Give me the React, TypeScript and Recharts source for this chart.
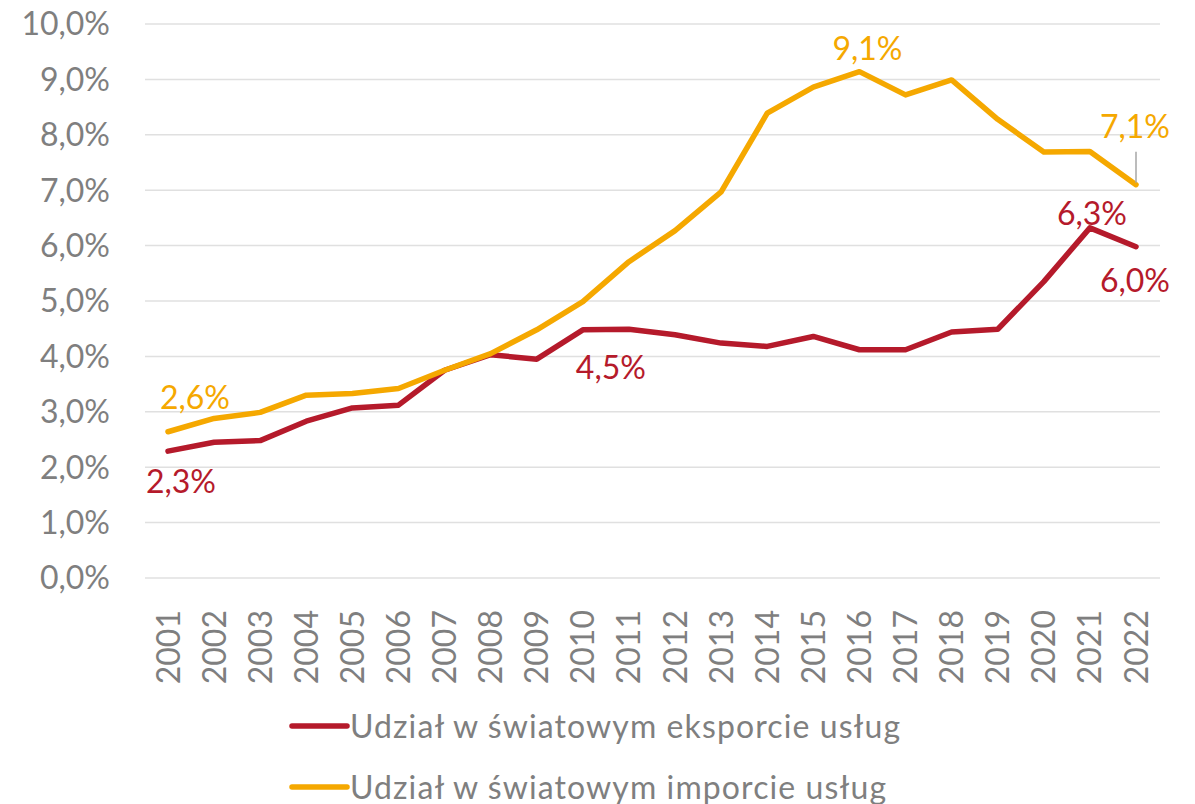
import { LineChart, Line, XAxis, YAxis, CartesianGrid, Legend } from 'recharts';

const years = [
  '2001', '2002', '2003', '2004', '2005', '2006', '2007', '2008', '2009', '2010', '2011',
  '2012', '2013', '2014', '2015', '2016', '2017', '2018', '2019', '2020', '2021', '2022',
];
const exportShare = [
  2.29, 2.45, 2.48, 2.83, 3.07, 3.12, 3.75, 4.03, 3.95, 4.48, 4.49,
  4.39, 4.24, 4.18, 4.36, 4.12, 4.12, 4.44, 4.49, 5.35, 6.32, 5.98,
];
const importShare = [
  2.64, 2.88, 2.99, 3.3, 3.33, 3.42, 3.75, 4.05, 4.48, 4.99, 5.71,
  6.27, 6.97, 8.39, 8.86, 9.14, 8.72, 8.99, 8.28, 7.69, 7.7, 7.1,
];
const yTicks = [0, 1, 2, 3, 4, 5, 6, 7, 8, 9, 10];
const exportName = 'Udział w światowym eksporcie usług';
const importName = 'Udział w światowym imporcie usług';

const data = years.map((year, i) => ({
  year,
  exp: exportShare[i],
  imp: importShare[i],
}));

const RED = '#B51A2B';
const ORANGE = '#F5A800';
const GRAY = '#7F7F7F';
const FONT = 'Lato, "Noto Sans", sans-serif';

const fmt = (v: number) => v.toFixed(1).replace('.', ',') + '%';

// label offsets per point index: [dx, dy, leader line?]
const exportLabelPos: Record<number, [number, number, boolean?]> = {
  0: [13, 29],
  9: [28, 37],
  20: [2, -15],
  21: [-1, 33],
};
const importLabelPos: Record<number, [number, number, boolean?]> = {
  0: [27, -35],
  15: [8, -24],
  21: [-1, -59, true],
};

const makeLabel = (pos: Record<number, [number, number, boolean?]>, color: string) =>
  (props: any) => {
    const { x, y, value, index } = props;
    const p = pos[index];
    if (!p) return null;
    const [dx, dy, leader] = p;
    return (
      <g>
        {leader && (
          <line x1={x} y1={y - 33} x2={x} y2={y - 2} stroke="#A6A6A6" strokeWidth={1.5} />
        )}
        <text
          x={x + dx}
          y={y + dy}
          textAnchor="middle"
          dominantBaseline="central"
          fill={color}
          fontSize={32}
          fontFamily={FONT}
        >
          {fmt(value)}
        </text>
      </g>
    );
  };

const YearTick = (props: any) => {
  const { x, y, payload } = props;
  return (
    <text
      x={x}
      y={y + 24}
      transform={`rotate(-90, ${x}, ${y + 24})`}
      textAnchor="end"
      dy="0.36em"
      fill={GRAY}
      fontSize={32}
      fontFamily={FONT}
    >
      {payload.value}
    </text>
  );
};

const LegendBox = () => {
  const items = [
    { name: exportName, color: RED },
    { name: importName, color: ORANGE },
  ];
  return (
    <div style={{ fontFamily: FONT }}>
      {items.map((it) => (
        <div key={it.name} style={{ display: 'flex', alignItems: 'center', height: 61 }}>
          <svg width={61} height={10}>
            <line x1={3} y1={5} x2={58} y2={5} stroke={it.color} strokeWidth={5.5} strokeLinecap="round" />
          </svg>
          <span style={{ fontSize: 32, letterSpacing: 1.1, color: GRAY, whiteSpace: 'nowrap' }}>{it.name}</span>
        </div>
      ))}
    </div>
  );
};

export default function App() {
  return (
    <div style={{ position: 'absolute', left: 0, top: 0, background: '#fff' }}>
      <LineChart width={1195} height={804} data={data} margin={{ top: 24, right: 35, bottom: 0, left: 0 }}>
        <CartesianGrid vertical={false} stroke="#E0E0E0" strokeWidth={1.5} />
        <XAxis
          dataKey="year"
          interval={0}
          height={226}
          axisLine={false}
          tickLine={false}
          padding={{ left: 23, right: 24 }}
          tick={<YearTick />}
        />
        <YAxis
          domain={[0, 10]}
          ticks={yTicks}
          width={145}
          axisLine={false}
          tickLine={false}
          tickSize={0}
          tickMargin={35}
          tickFormatter={fmt}
          tick={{ fill: GRAY, fontSize: 32, fontFamily: FONT }}
        />
        <Legend
          layout="vertical"
          align="center"
          verticalAlign="middle"
          content={<LegendBox />}
          wrapperStyle={{ left: 289, top: 695, width: 700 }}
        />
        <Line
          dataKey="exp"
          name={exportName}
          stroke={RED}
          strokeWidth={5.5}
          strokeLinecap="round"
          strokeLinejoin="round"
          dot={false}
          isAnimationActive={false}
          label={makeLabel(exportLabelPos, RED)}
        />
        <Line
          dataKey="imp"
          name={importName}
          stroke={ORANGE}
          strokeWidth={5.5}
          strokeLinecap="round"
          strokeLinejoin="round"
          dot={false}
          isAnimationActive={false}
          label={makeLabel(importLabelPos, ORANGE)}
        />
      </LineChart>
    </div>
  );
}
